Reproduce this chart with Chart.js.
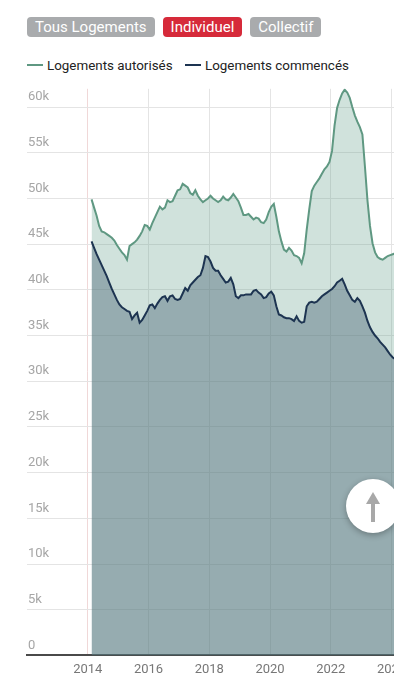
<!DOCTYPE html>
<html lang="fr">
<head>
<meta charset="utf-8">
<script src="https://cdn.jsdelivr.net/npm/chart.js@4.4.1/dist/chart.umd.min.js"></script>
<style>
    html, body {
        margin: 0;
        padding: 0;
        width: 394px;
        height: 680px;
        overflow: hidden;
        background: #fff;
        font-family: Roboto, "Noto Sans", sans-serif;
    }
    .btns {
        position: absolute;
        top: 17px;
        left: 27px;
        white-space: nowrap;
    }
    .btn {
        display: inline-block;
        height: 20px;
        line-height: 20px;
        padding: 0 8px;
        margin-right: 8px;
        border-radius: 4px;
        color: #fff;
        font-size: 15px;
    }
    .grey { background: #a9abad; }
    .red { background: #d62a3a; }
    .legend {
        position: absolute;
        top: 58px;
        left: 27px;
        font-size: 13.4px;
        color: #222;
        white-space: nowrap;
    }
    .legend span.item { margin-right: 9px; }
    .swatch {
        display: inline-block;
        width: 16px;
        height: 2px;
        margin-right: 4px;
        vertical-align: middle;
        position: relative;
        top: -1px;
    }
    #wrap {
        position: absolute;
        top: 80px;
        left: 0;
    }
    .up {
        position: absolute;
        left: 346px;
        top: 479px;
        width: 54px;
        height: 54px;
        border-radius: 50%;
        background: #fff;
        box-shadow: 0 2px 6px rgba(0, 0, 0, 0.3);
    }
</style>
</head>
<body>
<div class="btns">
    <span class="btn grey">Tous Logements</span><span class="btn red">Individuel</span><span class="btn grey">Collectif</span>
</div>
<div class="legend">
    <span class="item"><span class="swatch" style="background:#5f9882"></span>Logements autorisés</span>
    <span class="item"><span class="swatch" style="background:#1d3451"></span>Logements commencés</span>
</div>
<div id="wrap">
    <canvas id="chart" width="431" height="607"></canvas>
</div>
<div class="up">
    <svg width="54" height="54" viewBox="0 0 54 54">
        <rect x="25" y="22" width="4" height="21" fill="#a8a8a8"></rect>
        <polygon points="20,25 27,13 34,25" fill="#a8a8a8"></polygon>
    </svg>
</div>

<script>
// monthly values, thousands of dwellings, starting February 2014
const firstYear = 2014;
const firstMonth = 2;

const autorises = [
    49.9, 49.0, 48.1, 47.0, 46.4, 46.3, 46.1, 45.9, 45.7, 45.4,
    44.9, 44.5, 44.1, 43.8, 43.3, 44.8, 45.0, 45.2, 45.5, 45.9,
    46.4, 47.1, 47.0, 46.6, 47.3, 47.9, 48.5, 49.1, 48.8, 49.0,
    49.8, 49.6, 49.7, 50.3, 50.9, 51.0, 51.6, 51.4, 51.2, 50.6,
    50.4, 50.9, 50.3, 49.9, 49.6, 49.8, 50.0, 50.3, 50.0, 49.8,
    49.6, 49.8, 50.2, 49.9, 49.8, 50.1, 50.5, 50.1, 49.7, 49.0,
    48.2, 48.2, 48.3, 48.0, 47.7, 47.9, 47.8, 47.4, 47.3, 47.7,
    48.5, 49.1, 49.4, 48.0, 46.4, 45.3, 44.4, 44.2, 44.6, 44.3,
    43.8, 43.7, 43.5, 42.9, 44.0, 46.6, 48.8, 50.8, 51.4, 51.8,
    52.2, 52.7, 53.2, 53.5, 54.0, 55.2, 58.0, 59.9, 60.8, 61.5,
    61.9, 61.6, 61.0, 60.0, 59.1, 58.4, 57.8, 57.0, 53.5, 49.8,
    47.0, 45.1, 44.1, 43.6, 43.4, 43.3, 43.5, 43.7, 43.8, 43.9,
    44.0,
];

const commences = [
    45.3, 44.6, 43.9, 43.3, 42.7, 42.1, 41.5, 40.8, 40.1, 39.5,
    38.9, 38.4, 38.1, 37.9, 37.7, 37.6, 36.8, 37.2, 37.5, 36.4,
    36.7, 37.2, 37.7, 38.3, 38.4, 38.0, 38.5, 38.9, 39.2, 39.3,
    38.8, 39.3, 39.4, 39.0, 38.9, 39.0, 39.6, 40.2, 39.9, 40.5,
    40.8, 41.1, 41.4, 41.6, 42.4, 43.7, 43.6, 43.1, 42.4, 42.1,
    42.1, 41.6, 41.2, 40.8, 40.9, 41.3, 40.6, 39.3, 39.1, 39.4,
    39.4, 39.5, 39.5, 39.5, 39.9, 40.0, 39.7, 39.5, 39.1, 39.2,
    39.6, 39.8, 39.4, 38.2, 37.3, 37.2, 37.0, 36.9, 36.9, 36.8,
    36.6, 37.1, 36.6, 36.4, 36.5, 38.2, 38.6, 38.7, 38.6, 38.7,
    39.0, 39.3, 39.5, 39.7, 39.9, 40.1, 40.4, 40.8, 41.0, 41.2,
    40.6, 39.9, 39.4, 38.9, 38.7, 39.1, 38.8, 38.2, 37.5, 36.6,
    35.9, 35.4, 35.0, 34.7, 34.3, 34.0, 33.7, 33.3, 32.9, 32.6,
    32.4,
];

const yearTicks = [2014, 2016, 2018, 2020, 2022, 2024];

// month index -> decimal year (middle of the month)
function monthPos(i) {
    return firstYear + (firstMonth - 1 + i + 0.5) / 12;
}

function toPoints(values) {
    return values.map((v, i) => ({ x: monthPos(i), y: v }));
}

const ctx = document.getElementById("chart").getContext("2d");

new Chart(ctx, {
    type: "line",
    data: {
        datasets: [
            {
                label: "Logements autorisés",
                data: toPoints(autorises),
                borderColor: "#5f9882",
                backgroundColor: "rgba(100, 160, 140, 0.3)",
                borderWidth: 2,
                fill: "origin",
                pointRadius: 0,
                tension: 0,
                order: 2,
            },
            {
                label: "Logements commencés",
                data: toPoints(commences),
                borderColor: "#1d3451",
                backgroundColor: "rgba(79, 106, 122, 0.45)",
                borderWidth: 2,
                fill: "origin",
                pointRadius: 0,
                tension: 0,
                order: 1,
            },
        ],
    },
    options: {
        responsive: false,
        animation: false,
        layout: {
            padding: { left: 25, top: 8, right: 0, bottom: 2 },
        },
        plugins: {
            legend: { display: false },
            tooltip: { enabled: false },
        },
        scales: {
            x: {
                type: "linear",
                min: 2012,
                max: 2025.3,
                afterBuildTicks: (axis) => {
                    axis.ticks = yearTicks.map((v) => ({ value: v }));
                },
                grid: {
                    color: (c) =>
                        c.tick && c.tick.value === 2014 ? "#f0d8d8" : "#e4e4e4",
                    drawTicks: false,
                },
                border: { color: "#4a4a4a", width: 2 },
                ticks: {
                    padding: 7,
                    color: "#777",
                    font: { family: "Roboto", size: 13 },
                    callback: (v) => String(v),
                    maxRotation: 0,
                },
            },
            y: {
                min: 0,
                max: 62,
                grid: { color: "#e4e4e4", drawTicks: false },
                border: { display: false },
                ticks: {
                    stepSize: 5,
                    includeBounds: false,
                    mirror: true,
                    padding: 1,
                    labelOffset: -10,
                    color: "#a6a6a6",
                    font: { family: "Roboto", size: 13 },
                    callback: (v) => (v === 0 ? "0" : v + "k"),
                },
            },
        },
    },
});
</script>
</body>
</html>
